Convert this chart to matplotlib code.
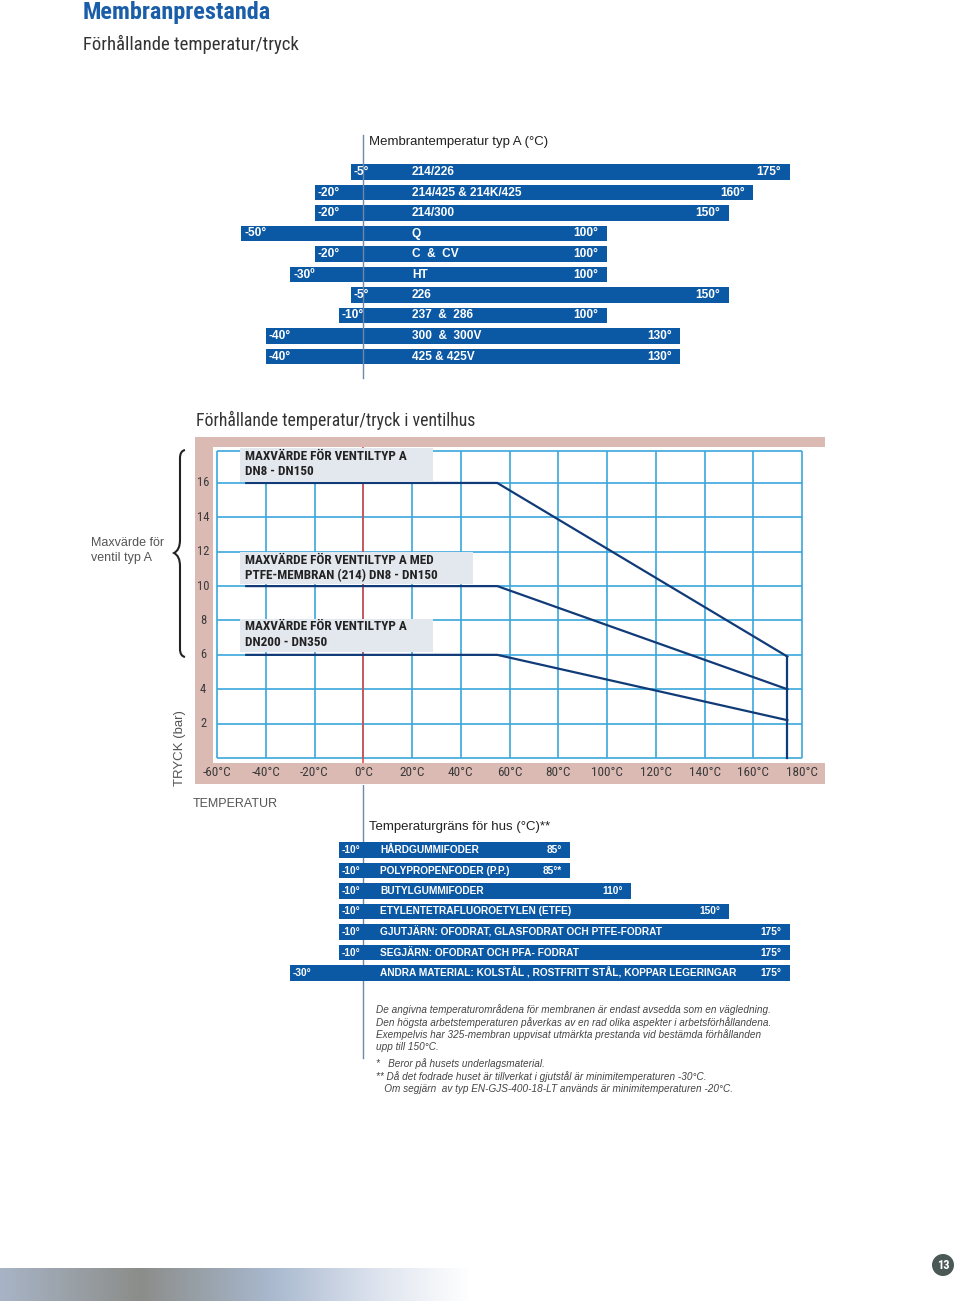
import numpy as np
import matplotlib
matplotlib.use('Agg')
import matplotlib.pyplot as plt
from matplotlib.patches import Rectangle, Circle, PathPatch
from matplotlib.path import Path
from matplotlib.colors import LinearSegmentedColormap

# membrane temperature, type A (deg C)
membranes = ['214/226', '214/425 & 214K/425', '214/300', 'Q', 'C  &  CV', 'HT',
             '226', '237  &  286', '300  &  300V', '425 & 425V']
memb_min = [-5, -20, -20, -50, -20, -30, -5, -10, -40, -40]
memb_max = [175, 160, 150, 100, 100, 100, 150, 100, 130, 130]
memb_min_labels = ['-5°', '-20°', '-20°', '-50°', '-20°', '-30º', '-5°', '-10°', '-40°', '-40°']
memb_max_labels = ['175°', '160°', '150°', '100°', '100°', '100°', '150°', '100°', '130°', '130°']

# body temperature limits (deg C)
bodies = ['HÅRDGUMMIFODER', 'POLYPROPENFODER (P.P.)', 'BUTYLGUMMIFODER',
          'ETYLENTETRAFLUOROETYLEN (ETFE)',
          'GJUTJÄRN: OFODRAT, GLASFODRAT OCH PTFE-FODRAT',
          'SEGJÄRN: OFODRAT OCH PFA- FODRAT',
          'ANDRA MATERIAL: KOLSTÅL , ROSTFRITT STÅL, KOPPAR LEGERINGAR']
body_min = [-10, -10, -10, -10, -10, -10, -30]
body_max = [85, 85, 110, 150, 175, 175, 175]
body_min_labels = ['-10°', '-10°', '-10°', '-10°', '-10°', '-10°', '-30°']
body_max_labels = ['85°', '85°*', '110°', '150°', '175°', '175°', '175°']

# pressure / temperature curves for valve body
curve_temp = [-48, 55, 174]
p_dn8_150 = [16, 16, 5.9]
p_ptfe = [10, 10, 4]
p_dn200_350 = [6, 6, 2.2]
curve_labels = [['MAXVÄRDE FÖR VENTILTYP A', 'DN8 - DN150'],
                ['MAXVÄRDE FÖR VENTILTYP A MED', 'PTFE-MEMBRAN (214) DN8 - DN150'],
                ['MAXVÄRDE FÖR VENTILTYP A', 'DN200 - DN350']]

temp_ticks = [-60, -40, -20, 0, 20, 40, 60, 80, 100, 120, 140, 160, 180]
press_ticks = [2, 4, 6, 8, 10, 12, 14, 16]

footnote = ['De angivna temperaturområdena för membranen är endast avsedda som en vägledning.',
            'Den högsta arbetstemperaturen påverkas av en rad olika aspekter i arbetsförhållandena.',
            'Exempelvis har 325-membran uppvisat utmärkta prestanda vid bestämda förhållanden',
            'upp till 150°C.']
stars = ['*   Beror på husets underlagsmaterial.',
         '** Då det fodrade huset är tillverkat i gjutstål är minimitemperaturen -30°C.',
         '   Om segjärn  av typ EN-GJS-400-18-LT används är minimitemperaturen -20°C.']

BAR = '#0b58a5'
GRID = '#3aa7dc'
PINK = '#dbbab3'
LINE = '#113b78'
AXIS = '#6f88aa'
GREY = '#555555'
# narrow face if one is there, else the Arial-like one
FN = ['Liberation Sans Narrow', 'Roboto Condensed', 'DejaVu Sans Condensed', 'Liberation Sans']
FR = ['Liberation Sans', 'DejaVu Sans']

W, H = 960, 1301
fig = plt.figure(figsize=(W / 100, H / 100), dpi=100)
fig.patch.set_facecolor('white')


def px_axes(x0, y0, x1, y1, **kw):
    return fig.add_axes([x0 / W, 1 - y1 / H, (x1 - x0) / W, (y1 - y0) / H], **kw)


# common temperature scale: 0 degC at x=363.25 px, 2.4375 px per degree
XLIM = ((195 - 363.25) / 2.4375, (825 - 363.25) / 2.4375)

# ---- top: membrane temperature bars
ax = px_axes(195, 130, 825, 380)
ax.set_xlim(XLIM)
ax.set_ylim((380 - 172) / 20.5, (130 - 172) / 20.5)
ax.axis('off')
rows = np.arange(len(membranes))
ax.barh(rows, np.array(memb_max) - np.array(memb_min), left=memb_min,
        height=0.78, color=BAR, zorder=2)
for i in rows:
    kw = dict(color='white', fontsize=8.6, fontweight='bold', va='center', family=FR, zorder=4)
    ax.text(memb_min[i] + 1.2, i, memb_min_labels[i], ha='left', **kw)
    ax.text(20, i, membranes[i], ha='left', **kw)
    ax.text(memb_max[i] - 3.5, i, memb_max_labels[i], ha='right', **kw)
ax.plot([0, 0], [-1.8, 10.05], color=AXIS, lw=1, zorder=3)
ax.text(2.4, -1.46, 'Membrantemperatur typ A (°C)', fontsize=9.5, color='#222222',
        va='center', ha='left', family=FR)

# ---- middle: pressure / temperature chart
ax = px_axes(195, 437, 825, 784)
ax.set_xlim(XLIM)
ylo, yhi = (758 - 784) / 17.19, (758 - 437) / 17.19
ax.set_ylim(ylo, yhi)
ax.axis('off')
ax.add_patch(Rectangle((XLIM[0], ylo), XLIM[1] - XLIM[0], yhi - ylo, color=PINK, lw=0, zorder=0))
wx0 = (213 - 363.25) / 2.4375
wy0, wy1 = (758 - 763) / 17.19, (758 - 447) / 17.19
ax.add_patch(Rectangle((wx0, wy0), XLIM[1] - wx0, wy1 - wy0, color='white', lw=0, zorder=0.5))
gtop = (758 - 451) / 17.19
ax.vlines(temp_ticks, 0, gtop, color=GRID, lw=1.2, zorder=1)
ax.hlines([0] + press_ticks + [gtop], -60, 180, color=GRID, lw=1.2, zorder=1)
ax.vlines(0, wy0, wy1, color='#e2403c', lw=1.1, zorder=1.5)
for c in (p_dn8_150, p_ptfe, p_dn200_350):
    ax.plot(curve_temp, c, color=LINE, lw=1.6, zorder=3, solid_joinstyle='miter')
ax.plot([curve_temp[-1], curve_temp[-1]], [p_dn8_150[-1], 0], color=LINE, lw=1.6, zorder=3)
for t in temp_ticks:
    ax.text(t, (758 - 773) / 17.19, f'{t}°C', ha='center', va='center',
            fontsize=9.5, color='#3a3a3a', family=FN, fontstretch='condensed')
for p in press_ticks:
    ax.text((203 - 363.25) / 2.4375, p, str(p), ha='center', va='center',
            fontsize=9, color='#3a3a3a', family=FN, fontstretch='condensed')

# ---- bottom: body temperature bars
ax = px_axes(195, 785, 825, 1060)
ax.set_xlim(XLIM)
ax.set_ylim((1060 - 850) / 20.5, (785 - 850) / 20.5)
ax.axis('off')
rows = np.arange(len(bodies))
ax.barh(rows, np.array(body_max) - np.array(body_min), left=body_min,
        height=0.75, color=BAR, zorder=2)
for i in rows:
    kw = dict(color='white', fontsize=7.3, fontweight='bold', va='center', family=FR, zorder=4)
    ax.text(body_min[i] + 1.2, i, body_min_labels[i], ha='left', **kw)
    ax.text(7, i, bodies[i], ha='left', **kw)
    ax.text(body_max[i] - 3.5, i, body_max_labels[i], ha='right', **kw)
ax.plot([0, 0], [(785 - 850) / 20.5, (1058 - 850) / 20.5], color=AXIS, lw=1, zorder=1)
ax.text(2.4, (827 - 850) / 20.5, 'Temperaturgräns för hus (°C)**', fontsize=9.5,
        color='#222222', va='center', ha='left', family=FR)

# ---- page decorations and free text (pixel coordinates)
pg = px_axes(0, 0, W, H, zorder=5)
pg.set_xlim(0, W)
pg.set_ylim(H, 0)
pg.axis('off')
pg.patch.set_alpha(0)

pg.text(83, 13, 'Membranprestanda', fontsize=17.5, fontweight='bold', color='#1a5ea9',
        va='center', ha='left', family=FN, fontstretch='condensed')
pg.text(83, 44, 'Förhållande temperatur/tryck', fontsize=13.5, color='#333333',
        va='center', ha='left', family=FN, fontstretch='condensed')
pg.text(196, 420, 'Förhållande temperatur/tryck i ventilhus', fontsize=12.8, color='#333333',
        va='center', ha='left', family=FN, fontstretch='condensed')

# boxes with curve names
for (x0, y0, x1, y1), lab in zip([(240, 448, 433, 482), (240, 552, 473, 584), (240, 619, 433, 652)],
                                 curve_labels):
    pg.add_patch(Rectangle((x0, y0), x1 - x0, y1 - y0, color='#e3e7ee', lw=0))
    for k in range(2):
        pg.text(x0 + 5, y0 + 8 + 15.5 * k, lab[k], fontsize=9.5, fontweight='bold',
                color='#222222', va='center', ha='left', family=FN, fontstretch='condensed')

pg.text(91, 543, 'Maxvärde för', fontsize=9, color=GREY, va='center', ha='left', family=FR)
pg.text(91, 558, 'ventil typ A', fontsize=9, color=GREY, va='center', ha='left', family=FR)
pg.text(180, 748, 'TRYCK (bar)', fontsize=9.5, color=GREY, va='center', ha='center',
        rotation=90, family=FR)
pg.text(193, 804, 'TEMPERATUR', fontsize=9, color=GREY, va='center', ha='left', family=FR)

# curly brace
verts = [(185, 450), (180, 451), (180, 458), (180, 465),
         (180, 540), (180, 550), (174, 553),
         (180, 556), (180, 566),
         (180, 642), (180, 649), (180, 656), (185, 657)]
codes = [Path.MOVETO, Path.CURVE3, Path.CURVE3, Path.LINETO,
         Path.LINETO, Path.CURVE3, Path.CURVE3,
         Path.CURVE3, Path.CURVE3,
         Path.LINETO, Path.LINETO, Path.CURVE3, Path.CURVE3]
pg.add_patch(PathPatch(Path(verts, codes), fill=False, lw=1.5, color='#222222'))

# footnote
for k, s in enumerate(footnote):
    pg.text(376, 1010 + k * 12.3, s, fontsize=7.2, style='italic', color='#444444',
            va='center', ha='left', family=FR)
for k, s in enumerate(stars):
    pg.text(376, 1064 + k * 12.5, s, fontsize=7.2, style='italic', color='#444444',
            va='center', ha='left', family=FR)

# gradient band at the bottom
cmap = LinearSegmentedColormap.from_list(
    'band', [(0, '#a8b4c6'), (0.3, '#8b8d89'), (0.58, '#a9b9cf'), (0.8, '#dde3ee'), (1, '#ffffff')])
pg.imshow(np.linspace(0, 1, 256)[None, :], cmap=cmap, aspect='auto',
          extent=(0, 470, 1301, 1268), zorder=0)
pg.set_xlim(0, W)
pg.set_ylim(H, 0)

pg.add_patch(Circle((943, 1265), 11, color='#4b5956', lw=0))
pg.text(943, 1265.5, '13', fontsize=9, fontweight='bold', color='white',
        va='center', ha='center', family=FN, fontstretch='condensed')

fig.savefig('out.png', dpi=100)
